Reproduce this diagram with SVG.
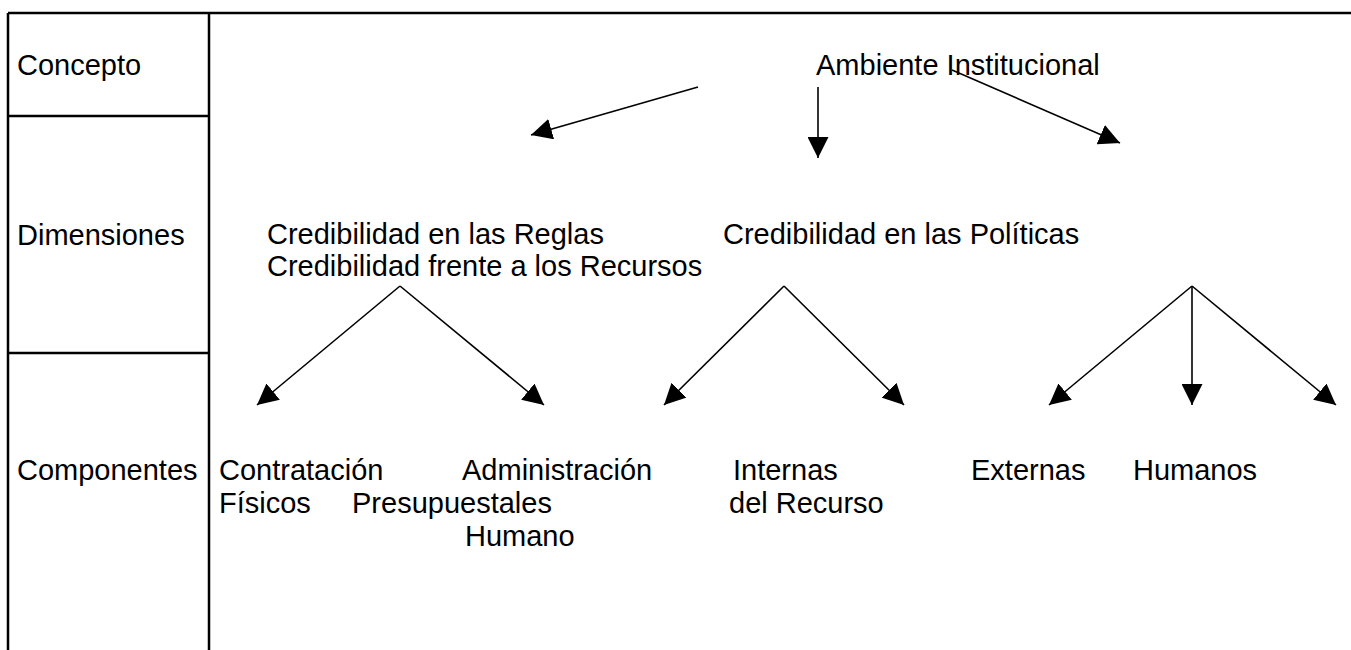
<svg xmlns="http://www.w3.org/2000/svg" width="1351" height="650" viewBox="0 0 1351 650">
<style>
.t{font-family:"Liberation Sans",Arial,sans-serif;font-size:29px;fill:#000}
.grid{stroke:#000;stroke-width:2.5;fill:none}
.c{stroke:#000;stroke-width:1.6;fill:none;marker-end:url(#ah)}
</style>
<defs>
<marker id="ah" markerUnits="userSpaceOnUse" markerWidth="21" markerHeight="21" viewBox="0 0 20 20" refX="20" refY="10" orient="auto">
<path d="M0,0 L20,10 L0,20 z" fill="#000"/>
</marker>
</defs>
<rect width="1351" height="650" fill="#fff"/>
<g id="table">
<line class="grid" x1="8" y1="13" x2="1351" y2="13"/>
<line class="grid" x1="8" y1="13" x2="8" y2="650"/>
<line class="grid" x1="209" y1="13" x2="209" y2="650"/>
<line class="grid" x1="8" y1="116" x2="209" y2="116"/>
<line class="grid" x1="8" y1="353" x2="209" y2="353"/>
</g>
<g id="row-labels">
<text class="t" x="17" y="75">Concepto</text>
<text class="t" x="17" y="245">Dimensiones</text>
<text class="t" x="17" y="480">Componentes</text>
</g>
<g id="concepto"><text class="t" x="816" y="75">Ambiente Institucional</text></g>
<g id="dim-reglas-recursos">
<text class="t" x="267" y="244">Credibilidad en las Reglas</text>
<text class="t" x="267" y="276">Credibilidad frente a los Recursos</text>
</g>
<g id="dim-politicas"><text class="t" x="723" y="244">Credibilidad en las Políticas</text></g>
<g id="comp-1">
<text class="t" x="219" y="480">Contratación</text>
<text class="t" x="219" y="513">Físicos</text>
</g>
<g id="comp-2">
<text class="t" x="462" y="480">Administración</text>
<text class="t" x="352" y="513">Presupuestales</text>
<text class="t" x="465" y="546">Humano</text>
</g>
<g id="comp-3">
<text class="t" x="733" y="480">Internas</text>
<text class="t" x="729" y="513">del Recurso</text>
</g>
<g id="comp-4"><text class="t" x="971" y="480">Externas</text></g>
<g id="comp-5"><text class="t" x="1133" y="480">Humanos</text></g>
<g id="connectors">
<line class="c" x1="698" y1="87" x2="531" y2="135"/>
<line class="c" x1="818" y1="87" x2="818" y2="158"/>
<line class="c" x1="952" y1="70" x2="1120" y2="143"/>
<line class="c" x1="400" y1="286" x2="257" y2="405"/>
<line class="c" x1="400" y1="286" x2="544" y2="405"/>
<line class="c" x1="784" y1="286" x2="664" y2="405"/>
<line class="c" x1="784" y1="286" x2="904" y2="405"/>
<line class="c" x1="1192" y1="286" x2="1049" y2="405"/>
<line class="c" x1="1192" y1="286" x2="1192" y2="405"/>
<line class="c" x1="1192" y1="286" x2="1336" y2="405"/>
</g>
</svg>
